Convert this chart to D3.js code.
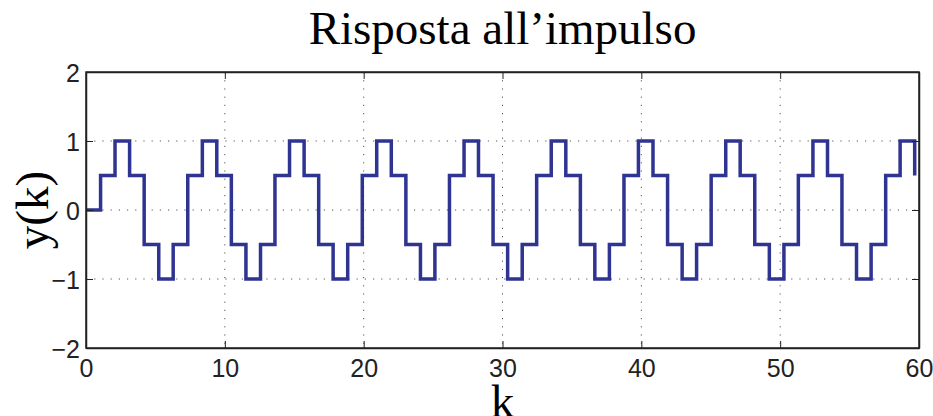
<!DOCTYPE html>
<html>
<head>
<meta charset="utf-8">
<script src="https://cdn.jsdelivr.net/npm/d3@7"></script>
<style>
  body { margin: 0; background: #fff; }
  svg { display: block; }
</style>
</head>
<body>
<script>
// impulse response, drawn as stairs
var kValues = [0, 1.05, 2.09, 3.14, 4.19, 5.24, 6.28, 7.33, 8.38, 9.42,
  10.47, 11.52, 12.57, 13.61, 14.66, 15.71, 16.76, 17.80, 18.85, 19.90,
  20.94, 21.99, 23.04, 24.09, 25.13, 26.18, 27.23, 28.27, 29.32, 30.37,
  31.42, 32.46, 33.51, 34.56, 35.61, 36.65, 37.70, 38.75, 39.79, 40.84,
  41.89, 42.94, 43.98, 45.03, 46.08, 47.12, 48.17, 49.22, 50.27, 51.31,
  52.36, 53.41, 54.45, 55.50, 56.55, 57.60, 58.64, 59.69];
var yValues = [0,
  0.5, 1, 0.5, -0.5, -1, -0.5,
  0.5, 1, 0.5, -0.5, -1, -0.5,
  0.5, 1, 0.5, -0.5, -1, -0.5,
  0.5, 1, 0.5, -0.5, -1, -0.5,
  0.5, 1, 0.5, -0.5, -1, -0.5,
  0.5, 1, 0.5, -0.5, -1, -0.5,
  0.5, 1, 0.5, -0.5, -1, -0.5,
  0.5, 1, 0.5, -0.5, -1, -0.5,
  0.5, 1, 0.5, -0.5, -1, -0.5,
  0.5, 1, 0.5];
var xTicks = [0, 10, 20, 30, 40, 50, 60];
var yTicks = [-2, -1, 0, 1, 2];

var width = 933, height = 416;
var pLeft = 86, pRight = 919, pTop = 72, pBottom = 348;

var x = d3.scaleLinear().domain([0, 60]).range([pLeft, pRight]);
var y = d3.scaleLinear().domain([-2, 2]).range([pBottom, pTop]);

var svg = d3.select('body').append('svg')
  .attr('width', width)
  .attr('height', height);

// grid
svg.append('g').selectAll('line')
  .data(xTicks.slice(1, -1))
  .enter().append('line')
  .attr('x1', d => x(d)).attr('x2', d => x(d))
  .attr('y1', pTop).attr('y2', pBottom)
  .attr('stroke', '#555').attr('stroke-width', 1)
  .attr('stroke-dasharray', '1.2,7');

svg.append('g').selectAll('line')
  .data(yTicks.slice(1, -1))
  .enter().append('line')
  .attr('y1', d => y(d)).attr('y2', d => y(d))
  .attr('x1', pLeft).attr('x2', pRight)
  .attr('stroke', '#555').attr('stroke-width', 1)
  .attr('stroke-dasharray', '1.2,7');

// the stairs
var pts = kValues.map((k, i) => [k, yValues[i]]);
var line = d3.line()
  .x(d => x(d[0]))
  .y(d => y(d[1]))
  .curve(d3.curveStepAfter);

svg.append('path')
  .datum(pts)
  .attr('d', line)
  .attr('fill', 'none')
  .attr('stroke', '#2f3391')
  .attr('stroke-width', 3.5)
  .attr('stroke-linejoin', 'miter');

// axes, ticks inward on all four sides
var fmt = d => d < 0 ? '\u2212' + Math.abs(d) : String(d);

var gx = svg.append('g')
  .attr('transform', 'translate(0,' + pBottom + ')')
  .call(d3.axisBottom(x).tickValues(xTicks).tickSizeInner(-7).tickSizeOuter(0).tickPadding(11).tickFormat(fmt));
svg.append('g')
  .attr('transform', 'translate(0,' + pTop + ')')
  .call(d3.axisTop(x).tickValues(xTicks).tickSizeInner(-7).tickSizeOuter(0).tickFormat(''));
var gy = svg.append('g')
  .attr('transform', 'translate(' + pLeft + ',0)')
  .call(d3.axisLeft(y).tickValues(yTicks).tickSizeInner(-7).tickSizeOuter(0).tickPadding(6).tickFormat(fmt));
svg.append('g')
  .attr('transform', 'translate(' + pRight + ',0)')
  .call(d3.axisRight(y).tickValues(yTicks).tickSizeInner(-7).tickSizeOuter(0).tickFormat(''));

gx.attr('font-size', 25).attr('font-family', '"Liberation Sans", Arial, sans-serif');
gy.attr('font-size', 25).attr('font-family', '"Liberation Sans", Arial, sans-serif');
gy.selectAll('.tick text').attr('dy', '0.36em');

svg.selectAll('.domain').attr('stroke', '#222').attr('stroke-width', 1.5);
svg.selectAll('.tick line').attr('stroke', '#222');
svg.selectAll('.tick text').attr('fill', '#222');

// box
svg.append('rect')
  .attr('x', pLeft).attr('y', pTop)
  .attr('width', pRight - pLeft).attr('height', pBottom - pTop)
  .attr('fill', 'none').attr('stroke', '#222').attr('stroke-width', 1.5);

// titles
svg.append('text')
  .attr('x', (pLeft + pRight) / 2).attr('y', 44)
  .attr('text-anchor', 'middle')
  .style('font-family', '"Liberation Serif", "Times New Roman", serif')
  .style('font-size', '47px')
  .text('Risposta all\u2019impulso');

svg.append('text')
  .attr('transform', 'translate(48,' + (pTop + pBottom) / 2 + ') rotate(-90)')
  .attr('text-anchor', 'middle')
  .style('font-family', '"Liberation Serif", "Times New Roman", serif')
  .style('font-size', '47px')
  .text('y(k)');

svg.append('text')
  .attr('x', (pLeft + pRight) / 2).attr('y', 417)
  .attr('text-anchor', 'middle')
  .style('font-family', '"Liberation Serif", "Times New Roman", serif')
  .style('font-size', '47px')
  .text('k');
</script>
</body>
</html>
